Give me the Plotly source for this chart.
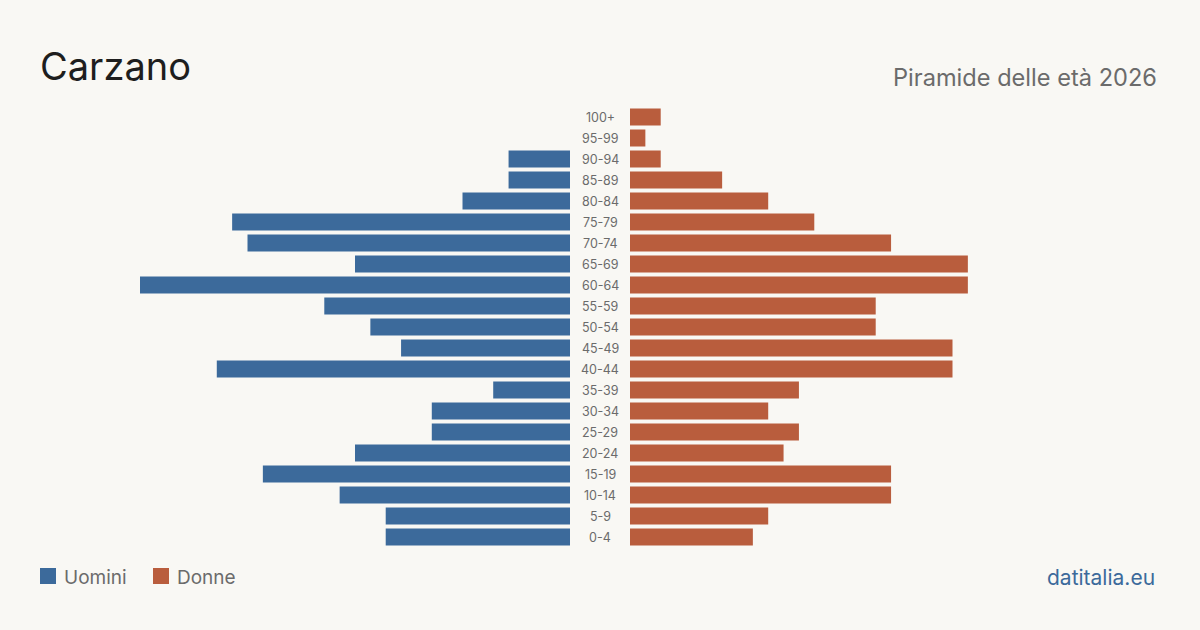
import plotly.graph_objects as go

ages = ["0-4", "5-9", "10-14", "15-19", "20-24", "25-29", "30-34", "35-39", "40-44", "45-49",
        "50-54", "55-59", "60-64", "65-69", "70-74", "75-79", "80-84", "85-89", "90-94", "95-99", "100+"]
men = [12, 12, 15, 20, 14, 9, 9, 5, 23, 11, 13, 16, 28, 14, 21, 22, 7, 4, 4, 0, 0]
women = [8, 9, 17, 17, 10, 11, 9, 11, 21, 21, 16, 16, 22, 22, 17, 12, 9, 6, 2, 1, 2]

BLUE = "#3c6a9b"
ORANGE = "#b95d3d"
BG = "#f9f8f4"
FONT = "Inter, Noto Sans, sans-serif"

xmax = max(max(men), max(women))

fig = go.Figure()
fig.add_trace(go.Bar(y=ages, x=men, orientation="h", marker=dict(color=BLUE, line=dict(width=0)),
                     xaxis="x", yaxis="y", width=0.8, showlegend=False, hoverinfo="skip"))
fig.add_trace(go.Bar(y=ages, x=women, orientation="h", marker=dict(color=ORANGE, line=dict(width=0)),
                     xaxis="x2", yaxis="y", width=0.8, showlegend=False, hoverinfo="skip"))

ytop = 1 - 106.5 / 630
ybot = 1 - 547.5 / 630

fig.update_layout(
    width=1200, height=630,
    margin=dict(l=0, r=0, t=0, b=0),
    paper_bgcolor=BG, plot_bgcolor=BG,
    font=dict(family=FONT),
    bargap=0.2,
    xaxis=dict(domain=[140 / 1200, 570 / 1200], range=[xmax, 0], visible=False, fixedrange=True),
    xaxis2=dict(domain=[630 / 1200, 1060 / 1200], range=[0, xmax], visible=False, fixedrange=True),
    yaxis=dict(domain=[ybot, ytop], visible=False, categoryorder="array", categoryarray=ages,
               range=[-0.5, len(ages) - 0.5]),
)

annotations = []
for a in ages:
    annotations.append(dict(x=0.5, xref="paper", y=a, yref="y", text=a, showarrow=False,
                            xanchor="center", yanchor="middle",
                            font=dict(size=12.5, color="#6b6b6b", family=FONT)))

annotations += [
    dict(x=38 / 1200, y=1 - 66 / 630, xref="paper", yref="paper", text="Carzano", showarrow=False,
         xanchor="left", yanchor="middle", font=dict(size=38, color="#1e1e1e", family=FONT)),
    dict(x=1159 / 1200, y=1 - 77 / 630, xref="paper", yref="paper", text="Piramide delle età 2026",
         showarrow=False, xanchor="right", yanchor="middle",
         font=dict(size=23.6, color="#6b6b6b", family=FONT)),
    dict(x=62 / 1200, y=1 - 577 / 630, xref="paper", yref="paper", text="Uomini", showarrow=False,
         xanchor="left", yanchor="middle", font=dict(size=19, color="#6b6b6b", family=FONT)),
    dict(x=175 / 1200, y=1 - 577 / 630, xref="paper", yref="paper", text="Donne", showarrow=False,
         xanchor="left", yanchor="middle", font=dict(size=19, color="#6b6b6b", family=FONT)),
    dict(x=1157 / 1200, y=1 - 577 / 630, xref="paper", yref="paper", text="datitalia.eu",
         showarrow=False, xanchor="right", yanchor="middle",
         font=dict(size=21, color="#3c6a9b", family=FONT)),
]

shapes = [
    dict(type="rect", xref="paper", yref="paper", x0=40 / 1200, x1=56 / 1200,
         y0=1 - 584 / 630, y1=1 - 568 / 630, fillcolor=BLUE, line=dict(width=0)),
    dict(type="rect", xref="paper", yref="paper", x0=153 / 1200, x1=169 / 1200,
         y0=1 - 584 / 630, y1=1 - 568 / 630, fillcolor=ORANGE, line=dict(width=0)),
]

fig.update_layout(annotations=annotations, shapes=shapes)
fig.write_html("out.html", config={"displayModeBar": False})
